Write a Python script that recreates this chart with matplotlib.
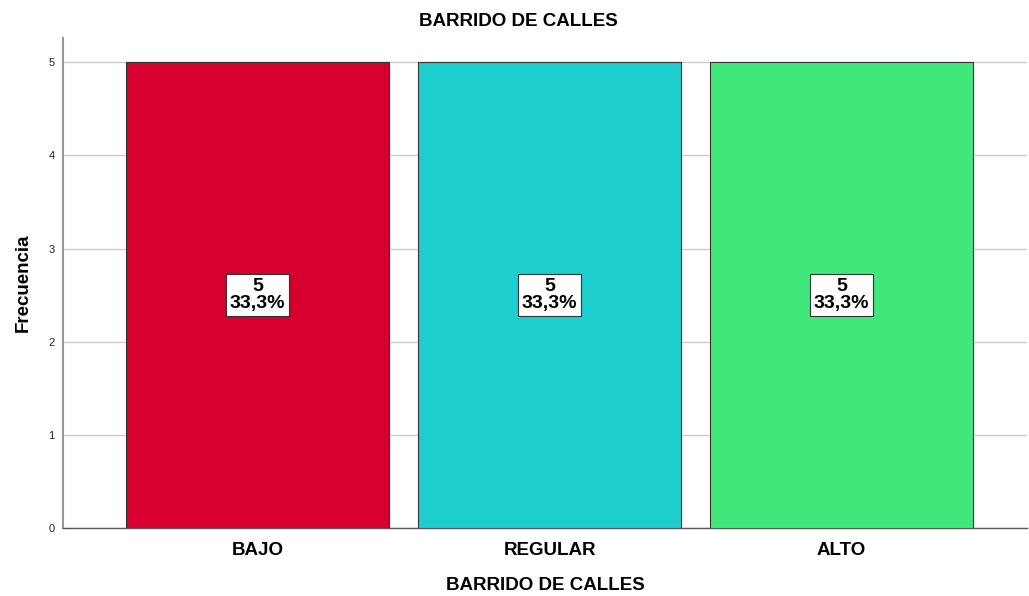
import matplotlib.pyplot as plt

categories = ["BAJO", "REGULAR", "ALTO"]
counts = [5, 5, 5]
percents = ["33,3%", "33,3%", "33,3%"]
colors = ["#D5002E", "#1ECECE", "#40E87B"]

plt.rcParams['font.family'] = ['Liberation Sans', 'DejaVu Sans']

fig = plt.figure(figsize=(10.29, 5.96), dpi=100)
ax = fig.add_axes([63 / 1029, 1 - 528 / 596, (1027 - 63) / 1029, (528 - 38) / 596])

x = range(len(categories))
ax.bar(x, counts, width=0.9, color=colors, edgecolor="#333333", linewidth=0.8, zorder=3)

for i, (c, p) in enumerate(zip(counts, percents)):
    ax.text(i, c / 2, f"{c}\n{p}", ha="center", va="center", fontsize=14,
            fontweight="bold", linespacing=1.0, zorder=4,
            bbox=dict(boxstyle="square,pad=0.2", fc="white", ec="#333333", lw=0.8))

ax.set_xlim(-0.666, 2.635)
ax.set_ylim(0, 5.26)
ax.set_yticks([0, 1, 2, 3, 4, 5])
ax.yaxis.grid(True, color="#CCCCCC", linewidth=1, zorder=0)
ax.set_axisbelow(True)
ax.set_xticks(list(x))
ax.set_xticklabels(categories, fontsize=13.5, fontweight="bold")
ax.tick_params(axis="y", length=0, labelsize=8, colors="#222222", pad=6)
ax.tick_params(axis="x", length=0, pad=10)

for s in ["top", "right"]:
    ax.spines[s].set_visible(False)
ax.spines["left"].set_color("#999999")
ax.spines["left"].set_linewidth(1.5)
ax.spines["bottom"].set_color("#555555")
ax.spines["bottom"].set_linewidth(1)

ax.set_ylabel("Frecuencia", fontsize=13.5, fontweight="bold", labelpad=12)
ax.set_xlabel("BARRIDO DE CALLES", fontsize=13.5, fontweight="bold", labelpad=13)
fig.text(518 / 1029, 1 - 22 / 596, "BARRIDO DE CALLES", ha="center", va="center",
         fontsize=13.5, fontweight="bold")

fig.savefig("out.png", dpi=100)
